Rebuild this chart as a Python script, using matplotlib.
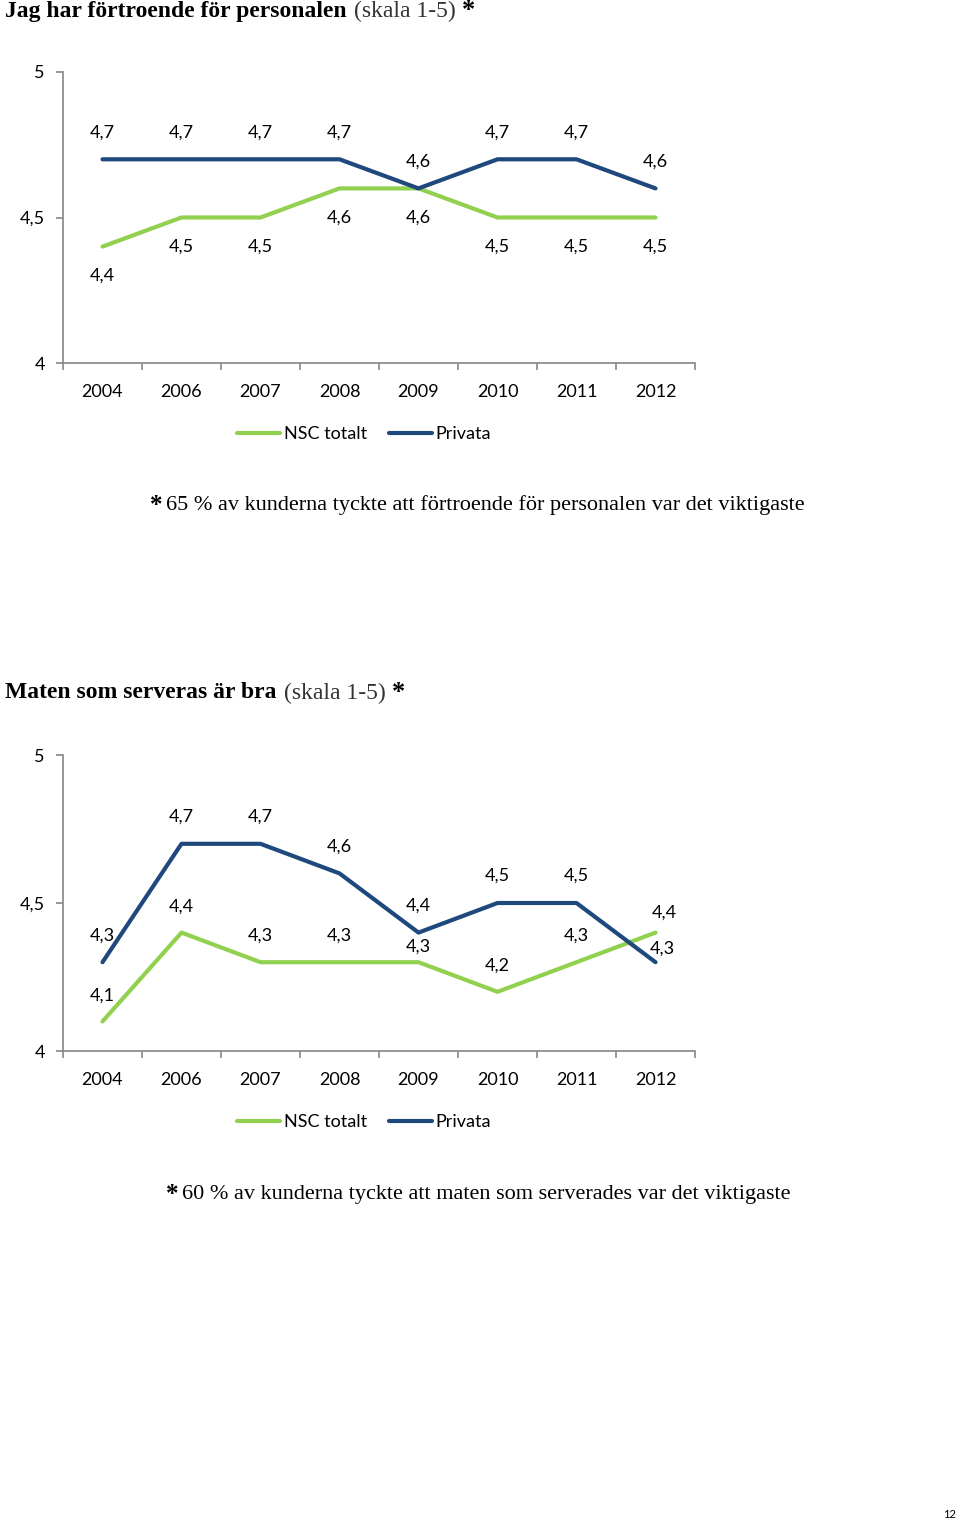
import matplotlib
matplotlib.use("Agg")
import matplotlib.pyplot as plt
from matplotlib.ticker import FixedLocator, FuncFormatter

years = ["2004", "2006", "2007", "2008", "2009", "2010", "2011", "2012"]

trust_nsc = [4.4, 4.5, 4.5, 4.6, 4.6, 4.5, 4.5, 4.5]
trust_priv = [4.7, 4.7, 4.7, 4.7, 4.6, 4.7, 4.7, 4.6]

food_nsc = [4.1, 4.4, 4.3, 4.3, 4.3, 4.2, 4.3, 4.4]
food_priv = [4.3, 4.7, 4.7, 4.6, 4.4, 4.5, 4.5, 4.3]

GREEN = "#92D050"
BLUE = "#1F497D"
AXIS_GRAY = "#868686"
NUM_FONT = "Lato"
SERIF = "Liberation Serif"

W, H = 960, 1521
fig = plt.figure(figsize=(W / 100, H / 100), dpi=100)
fig.patch.set_facecolor("white")
renderer = fig.canvas.get_renderer()


def comma(v, _pos=None):
    s = f"{v:.1f}".replace(".", ",")
    return s[:-2] if s.endswith(",0") else s


def add_chart(top, bottom, nsc, priv, nsc_offsets, priv_offsets):
    ax = fig.add_axes([63 / W, 1 - bottom / H, (695 - 63) / W, (bottom - top) / H])
    x = range(len(years))
    ax.plot(x, nsc, color=GREEN, lw=3, solid_capstyle="round", label="NSC totalt", zorder=3)
    ax.plot(x, priv, color=BLUE, lw=3, solid_capstyle="round", label="Privata", zorder=4)

    for series, offsets in ((priv, priv_offsets), (nsc, nsc_offsets)):
        for i, (v, (dx, dy)) in enumerate(zip(series, offsets)):
            ax.annotate(comma(v), (i, v), xytext=(dx, dy), textcoords="offset pixels",
                        ha="center", va="center", fontsize=13, family=NUM_FONT,
                        color="black")

    ax.set_xlim(-0.5, len(years) - 0.5)
    ax.set_ylim(4, 5)
    ax.set_yticks([4, 4.5, 5])
    ax.yaxis.set_major_formatter(FuncFormatter(comma))
    ax.set_xticks(list(x))
    ax.set_xticklabels(years)
    ax.xaxis.set_minor_locator(FixedLocator([i - 0.5 for i in range(len(years) + 1)]))

    for side in ("top", "right"):
        ax.spines[side].set_visible(False)
    for side in ("left", "bottom"):
        ax.spines[side].set_color(AXIS_GRAY)
        ax.spines[side].set_linewidth(1.2)

    ax.tick_params(axis="x", which="major", length=0, pad=15)
    ax.tick_params(axis="x", which="minor", length=5, width=1.2, color=AXIS_GRAY)
    ax.tick_params(axis="y", length=5, width=1.2, color=AXIS_GRAY, pad=8)
    for lab in ax.get_xticklabels() + ax.get_yticklabels():
        lab.set_fontsize(13)
        lab.set_family(NUM_FONT)
    ax.set_facecolor("none")
    return ax


def rich_text(x, y, parts):
    for text, kw, gap in parts:
        t = fig.text(x / W, 1 - y / H, text, ha="left", va="center", **kw)
        bb = t.get_window_extent(renderer)
        x = bb.x1 + gap


def add_legend(ax, cy):
    leg = ax.legend(loc="center", bbox_to_anchor=(364 / W, 1 - cy / H),
                    bbox_transform=fig.transFigure, ncol=2, frameon=False,
                    handlelength=2.4, handletextpad=0.2, columnspacing=1.2,
                    prop={"family": NUM_FONT, "size": 13})
    return leg


# Chart 1
rich_text(5, 11, [
    ("Jag har förtroende för personalen", dict(family=SERIF, weight="bold", size=17), 7),
    ("(skala 1-5)", dict(family=SERIF, size=17, color="#333333"), 7),
    ("*", dict(family=SERIF, weight="bold", size=19), 0),
])
ax1 = add_chart(72, 363, trust_nsc, trust_priv,
                [(0, -29)] * 8,
                [(0, 27)] * 8)
add_legend(ax1, 434)
rich_text(150, 505, [
    ("*", dict(family=SERIF, weight="bold", size=18), 4),
    ("65 % av kunderna tyckte att förtroende för personalen var det viktigaste",
     dict(family=SERIF, size=16), 0),
])

# Chart 2
rich_text(5, 693, [
    ("Maten som serveras är bra", dict(family=SERIF, weight="bold", size=17), 7),
    ("(skala 1-5)", dict(family=SERIF, size=17, color="#333333"), 7),
    ("*", dict(family=SERIF, weight="bold", size=19), 0),
])
ax2 = add_chart(755, 1051, food_nsc, food_priv,
                [(0, 26), (0, 26), (0, 27), (0, 27), (0, 16), (0, 26), (0, 27), (9, 20)],
                [(0, 27)] * 7 + [(7, 14)])
add_legend(ax2, 1122)
rich_text(166, 1195, [
    ("*", dict(family=SERIF, weight="bold", size=18), 4),
    ("60 % av kunderna tyckte att maten som serverades var det viktigaste",
     dict(family=SERIF, size=16), 0),
])

fig.text(949 / W, 1 - 1515 / H, "12", ha="center", va="center", fontsize=8, family=NUM_FONT)

fig.savefig("out.png", dpi=100)
